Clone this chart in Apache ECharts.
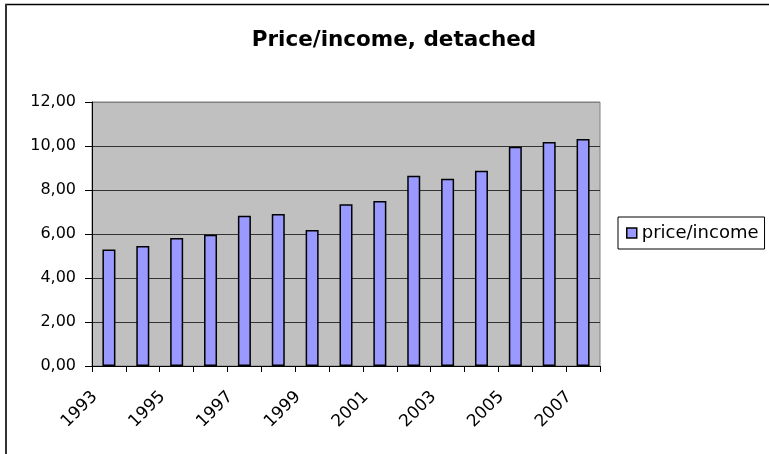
<!DOCTYPE html>
<html>
<head>
<meta charset="utf-8">
<script src="https://cdn.jsdelivr.net/npm/echarts@6/dist/echarts.min.js"></script>
<style>html,body{margin:0;padding:0;background:#fff;}#c{width:769px;height:454px;}</style>
</head>
<body>
<div id="c"></div>
<script>
var years = ['1993','1994','1995','1996','1997','1998','1999','2000','2001','2002','2003','2004','2005','2006','2007'];
var priceIncome = [5.30, 5.45, 5.82, 5.97, 6.83, 6.91, 6.18, 7.35, 7.50, 8.65, 8.51, 8.88, 9.97, 10.18, 10.32];
var titleText = 'Price/income, detached';
var seriesName = 'price/income';

var chart = echarts.init(document.getElementById('c'), null, {renderer: 'canvas'});
var FONT = 'DejaVu Sans';
chart.setOption({
  animation: false,
  backgroundColor: '#ffffff',
  title: {
    text: titleText,
    left: 389,
    textAlign: 'center',
    top: 24,
    textStyle: {fontFamily: FONT, fontWeight: 'bold', fontSize: 21.5, color: '#000'}
  },
  legend: {
    data: [seriesName],
    orient: 'vertical',
    left: 618,
    top: 217,
    padding: [7, 6, 7, 8],
    backgroundColor: '#fff',
    borderColor: '#000',
    borderWidth: 1,
    borderRadius: 0,
    itemWidth: 10,
    itemHeight: 10,
    itemGap: 0,
    icon: 'rect',
    itemStyle: {color: '#9999FF', borderColor: '#000', borderWidth: 1.5},
    textStyle: {fontFamily: FONT, fontSize: 18, color: '#000', padding: [0, 0, 0, 0]}
  },
  grid: {
    left: 92, right: 169, top: 102, bottom: 88,
    show: true,
    backgroundColor: '#C0C0C0',
    borderColor: '#808080',
    borderWidth: 1
  },
  xAxis: {
    type: 'category',
    data: years,
    boundaryGap: true,
    axisLine: {lineStyle: {color: '#000', width: 1}},
    axisTick: {show: true, interval: 0, length: 6, lineStyle: {color: '#000'}},
    axisLabel: {
      interval: 1,
      rotate: 45,
      margin: 14,
      padding: [0, 20, 0, 0],
      fontFamily: FONT, fontSize: 17, color: '#000'
    },
    splitLine: {show: false}
  },
  yAxis: {
    type: 'value',
    min: 0, max: 12, interval: 2,
    axisLine: {show: true, lineStyle: {color: '#000', width: 1}},
    axisTick: {show: true, length: 7, lineStyle: {color: '#000'}},
    axisLabel: {
      margin: 16,
      fontFamily: FONT, fontSize: 16, color: '#000',
      formatter: function (v) { return v.toFixed(2).replace('.', ','); }
    },
    splitLine: {show: true, lineStyle: {color: ['#333','#333','#333','#333','#333','#333','#808080'], width: 1}}
  },
  series: [{
    name: seriesName,
    type: 'bar',
    data: priceIncome,
    barWidth: 13,
    itemStyle: {color: '#9999FF', borderColor: '#000', borderWidth: 1.5}
  }],
  graphic: [
    {type: 'line', shape: {x1: 5, y1: 4.5, x2: 769, y2: 4.5}, style: {stroke: '#000', lineWidth: 1.5}, silent: true},
    {type: 'line', shape: {x1: 6, y1: 4, x2: 6, y2: 454}, style: {stroke: '#333', lineWidth: 2}, silent: true}
  ]
});
</script>
</body>
</html>
